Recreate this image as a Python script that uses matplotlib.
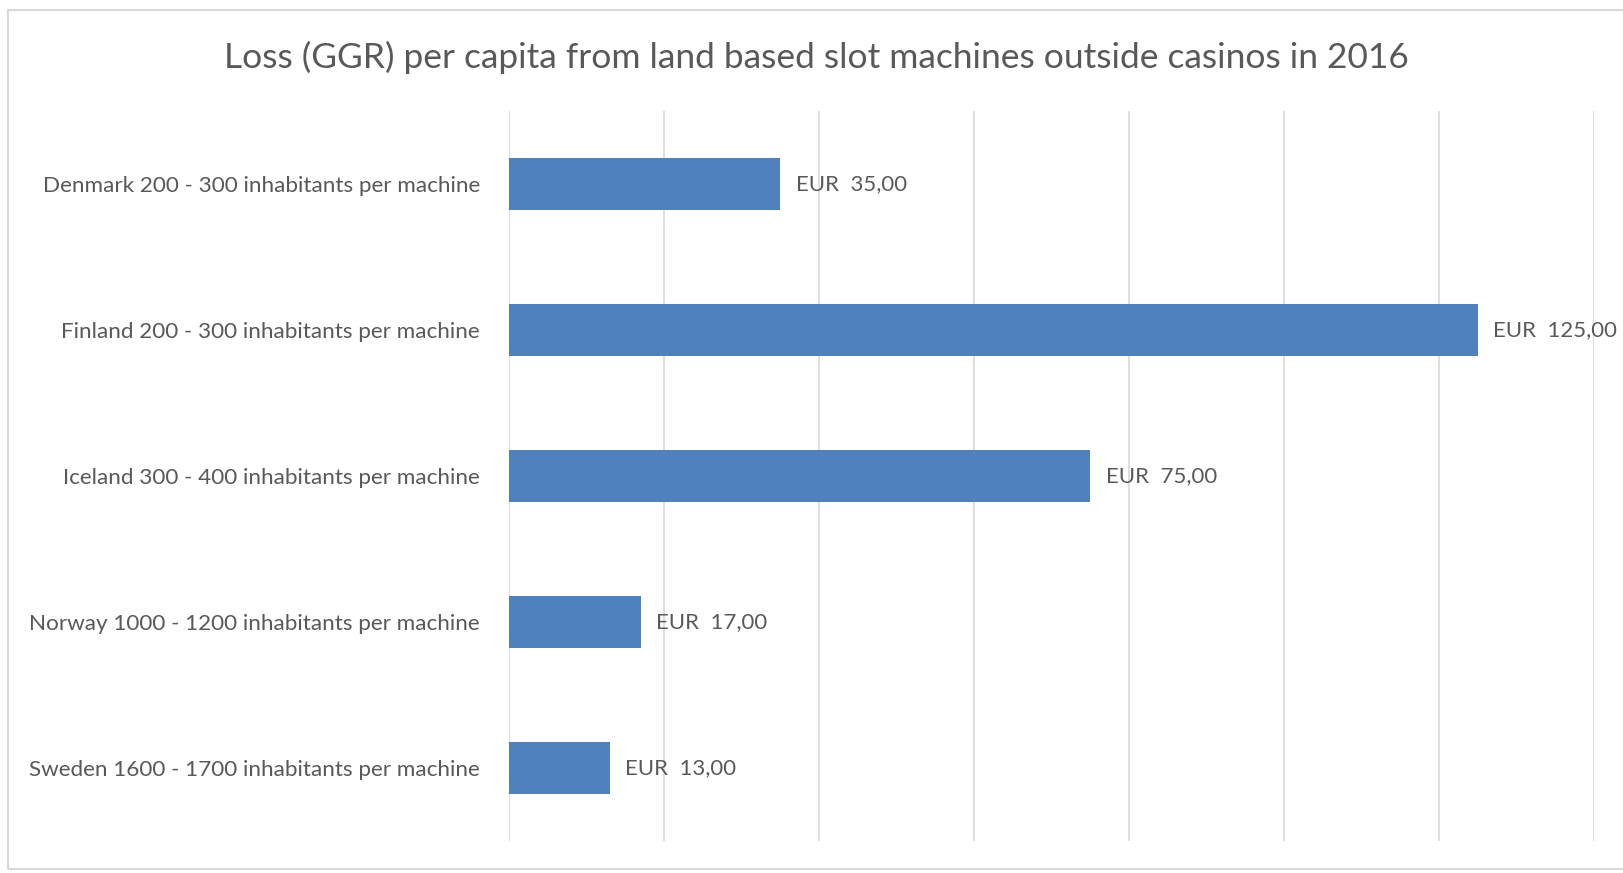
import matplotlib
matplotlib.use("Agg")
import matplotlib.pyplot as plt
from matplotlib.patches import Rectangle

countries = ["Denmark", "Finland", "Iceland", "Norway", "Sweden"]
ranges = ["200 - 300", "200 - 300", "300 - 400", "1000 - 1200", "1600 - 1700"]
loss_eur = [35.0, 125.0, 75.0, 17.0, 13.0]
x_ticks = [0, 20, 40, 60, 80, 100, 120, 140]

labels = [f"{c} {r} inhabitants per machine" for c, r in zip(countries, ranges)]

BAR = "#4F81BD"
TXT = "#595959"
GRID = "#D9D9D9"

plt.rcParams["font.family"] = ["Lato", "DejaVu Sans"]

W, H = 1623, 873
fig = plt.figure(figsize=(W / 100, H / 100), dpi=100)
# light chart-area frame, its right edge runs off the image
fig.patches.append(Rectangle((8 / W, 1 - 869 / H), 1.2, (869 - 10) / H,
                             transform=fig.transFigure, fill=False,
                             edgecolor=GRID, linewidth=1.5))

ax = fig.add_axes([509 / W, 1 - 841 / H, (1594 - 509) / W, (841 - 111) / H])
ypos = list(range(len(labels)))
ax.barh(ypos, loss_eur, height=0.35, color=BAR, zorder=3)
ax.set_xlim(x_ticks[0], x_ticks[-1])
ax.set_ylim(len(labels) - 0.5, -0.5)
ax.set_xticks(x_ticks)
ax.set_xticklabels([])
ax.set_yticks(ypos)
ax.set_yticklabels(labels, fontsize=16.2, color=TXT)
ax.tick_params(axis="y", length=0, pad=21)
ax.tick_params(axis="x", length=0)
ax.grid(axis="x", color=GRID, linewidth=1.2, zorder=0)
for s in ax.spines.values():
    s.set_visible(False)

for y, v in zip(ypos, loss_eur):
    ax.annotate(f"EUR  {v:.2f}".replace(".", ","), (v, y), xytext=(11, 0),
                textcoords="offset points", va="center", ha="left",
                fontsize=16, color=TXT, zorder=4)

fig.text(816 / W, 1 - 57 / H,
         "Loss (GGR) per capita from land based slot machines outside casinos in 2016",
         ha="center", va="center", fontsize=25.5, color=TXT)

fig.savefig("out.png", dpi=100)
